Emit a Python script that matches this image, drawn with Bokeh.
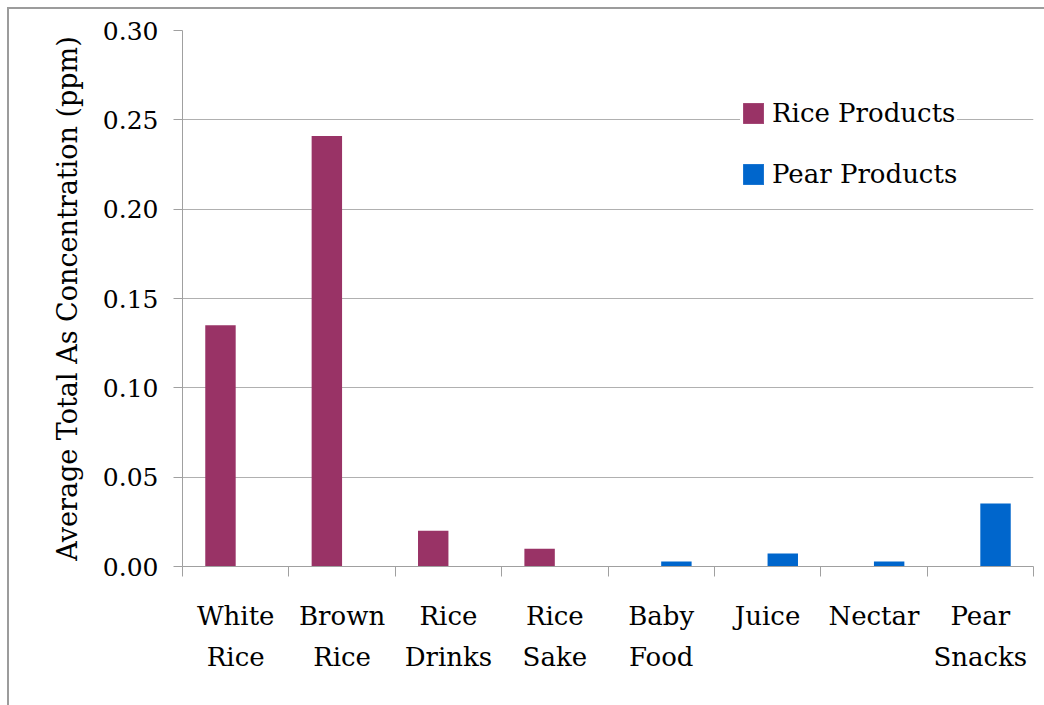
from bokeh.plotting import figure
from bokeh.models import FixedTicker, LinearAxis, PrintfTickFormatter, Range1d
from bokeh.embed import file_html
from bokeh.resources import INLINE

# Average total arsenic concentration by product (ppm)
categories = ["White Rice", "Brown Rice", "Rice Drinks", "Rice Sake",
              "Baby Food", "Juice", "Nectar", "Pear Snacks"]
label_line1 = ["White", "Brown", "Rice", "Rice", "Baby", "Juice", "Nectar", "Pear"]
label_line2 = ["Rice", "Rice", "Drinks", "Sake", "Food", "", "", "Snacks"]
rice_values = [0.135, 0.241, 0.020, 0.010, 0.0, 0.0, 0.0, 0.0]
pear_values = [0.0, 0.0, 0.0, 0.0, 0.0028, 0.0073, 0.0028, 0.0353]
y_ticks = [0.0, 0.05, 0.10, 0.15, 0.20, 0.25, 0.30]

FONT = "DejaVu Serif"
RICE_COLOR = "#993366"
PEAR_COLOR = "#0066CC"

n = len(categories)
centers = [i + 0.5 for i in range(n)]
bar_w = 0.286

p = figure(width=1037, height=698, output_backend="svg", toolbar_location=None,
           x_range=Range1d(0, n), y_range=Range1d(0, 0.30),
           min_border_left=173, min_border_top=21, min_border_right=13,
           min_border_bottom=141, margin=(7, 0, 0, 7))
p.styles = {"border-left": "2px solid #9c9c9c", "border-top": "2px solid #9c9c9c"}
p.outline_line_color = None
p.background_fill_color = "white"
p.border_fill_color = "white"

p.vbar(x=[c - bar_w / 2 for c in centers], top=rice_values, width=bar_w,
       fill_color=RICE_COLOR, line_color=None, legend_label="Rice Products")
p.vbar(x=[c + bar_w / 2 for c in centers], top=pear_values, width=bar_w,
       fill_color=PEAR_COLOR, line_color=None, legend_label="Pear Products")

# grid
p.xgrid.grid_line_color = None
p.ygrid.grid_line_color = "#b0b0b0"
p.ygrid.grid_line_width = 1
p.ygrid.ticker = FixedTicker(ticks=y_ticks)

# y axis
ya = p.yaxis[0]
ya.ticker = FixedTicker(ticks=y_ticks)
ya.formatter = PrintfTickFormatter(format="%.2f")
ya.axis_line_color = "#a0a0a0"
ya.major_tick_line_color = "#a0a0a0"
ya.major_tick_out = 9
ya.major_tick_in = 0
ya.minor_tick_line_color = None
ya.major_label_text_font = FONT
ya.major_label_text_font_size = "25px"
ya.major_label_text_color = "black"
ya.major_label_standoff = 15
ya.axis_label = "Average Total As Concentration (ppm)"
ya.axis_label_text_font = FONT
ya.axis_label_text_font_size = "27px"
ya.axis_label_text_font_style = "normal"
ya.axis_label_text_color = "black"
ya.axis_label_standoff = 17

# x axis: boundary ticks (minor) and first label line
xa = p.xaxis[0]
xa.ticker = FixedTicker(ticks=centers, minor_ticks=list(range(n + 1)))
xa.major_label_overrides = {c: t for c, t in zip(centers, label_line1)}
xa.axis_line_color = "#a0a0a0"
xa.major_tick_line_color = None
xa.major_tick_out = 0
xa.major_tick_in = 0
xa.minor_tick_line_color = "#a0a0a0"
xa.minor_tick_out = 10
xa.minor_tick_in = 0
xa.major_label_text_font = FONT
xa.major_label_text_font_size = "26px"
xa.major_label_text_color = "black"
xa.major_label_standoff = 24

# second label line
xa2 = LinearAxis(ticker=FixedTicker(ticks=centers, minor_ticks=[]),
                 major_label_overrides={c: t for c, t in zip(centers, label_line2)})
xa2.axis_line_color = None
xa2.major_tick_line_color = None
xa2.minor_tick_line_color = None
xa2.major_tick_out = 0
xa2.major_tick_in = 0
xa2.major_label_text_font = FONT
xa2.major_label_text_font_size = "26px"
xa2.major_label_text_color = "black"
xa2.major_label_standoff = 8
p.add_layout(xa2, "below")

# legend
lg = p.legend[0]
lg.location = (558, 377)
lg.border_line_color = None
lg.background_fill_color = "white"
lg.background_fill_alpha = 1.0
lg.glyph_width = 26
lg.glyph_height = 26
lg.label_standoff = 6
lg.padding = 15
lg.margin = 0
lg.spacing = 31
lg.label_width = 182
lg.label_text_font = FONT
lg.label_text_font_size = "26px"
lg.label_text_color = "black"

open("out.html", "w").write(file_html(p, INLINE))
